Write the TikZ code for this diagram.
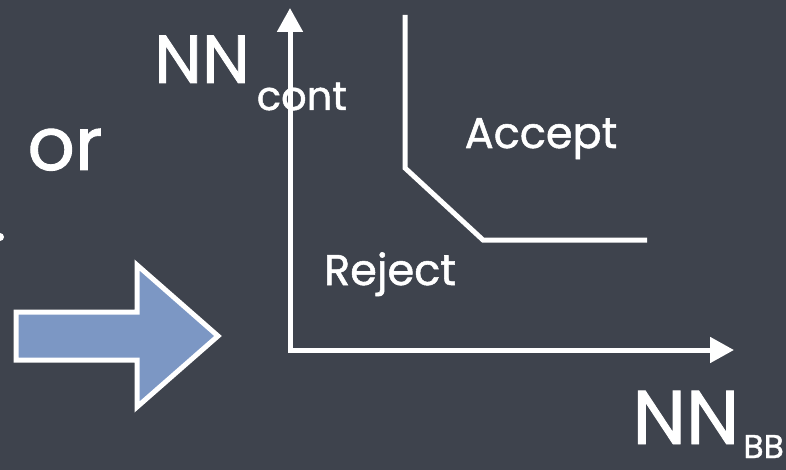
\documentclass[tikz,border=0pt]{standalone}
\usepackage{fontspec}
\setmainfont{Poppins}[FakeBold=1.2]
\usetikzlibrary{positioning,arrows.meta}

\definecolor{slate}{HTML}{3E434D}
\definecolor{arrowblue}{HTML}{7C97C4}

\tikzset{
  axislabel/.style={font=\fontsize{68}{74}\selectfont, inner sep=0pt},
  sublabel/.style={font=\fontsize{40}{44}\selectfont, inner sep=0pt},
  region/.style={font=\fontsize{43}{48}\selectfont, inner sep=0pt},
  bigword/.style={font=\fontsize{74}{80}\selectfont, inner sep=0pt}
}

\begin{document}
\begin{tikzpicture}[x=1pt, y=-1pt, >={Triangle[length=24pt,width=25pt]}, line width=5pt, white]
  \useasboundingbox[fill=slate] (0,0) rectangle (786,470);

  % axes
  \coordinate (origin) at (290,350);
  \coordinate (ytip) at (290,8);
  \coordinate (xtip) at (734,350);
  \draw[<->] (ytip) |- (xtip);

  % decision boundary
  \coordinate (b1) at (405,15);
  \coordinate (b2) at (405,168);
  \coordinate (b3) at (483,240);
  \coordinate (b4) at (647,240);
  \draw (b1) -- (b2) -- (b3) -- (b4);

  % labels
  \node[axislabel, anchor=base] (ylabel) at (202,83) {NN};
  \node[sublabel, below right=27pt and 2pt of ylabel.base east, anchor=base west] (ysub) {cont};
  \node[axislabel, font=\fontsize{76}{80}\selectfont, anchor=base] (xlabel) at (686,444) {NN};
  \node[sublabel, font=\fontsize{33}{36}\selectfont, below right=14pt and -1pt of xlabel.base east, anchor=base west] (xsub) {BB};

  \node[region, anchor=base] (accept) at (541,148) {Accept};
  \node[region, anchor=base] (reject) at (390,285) {Reject};
  \node[bigword, anchor=base] (orword) at (65,170) {or};

  % cut-off mark at the left edge
  \fill (0,237) circle (4);

  % big blue arrow
  \draw[fill=arrowblue, line join=miter]
    (16,312) -- (137,312) -- (137,265) -- (218,336) -- (137,407) -- (137,360) -- (16,360) -- cycle;
\end{tikzpicture}
\end{document}
